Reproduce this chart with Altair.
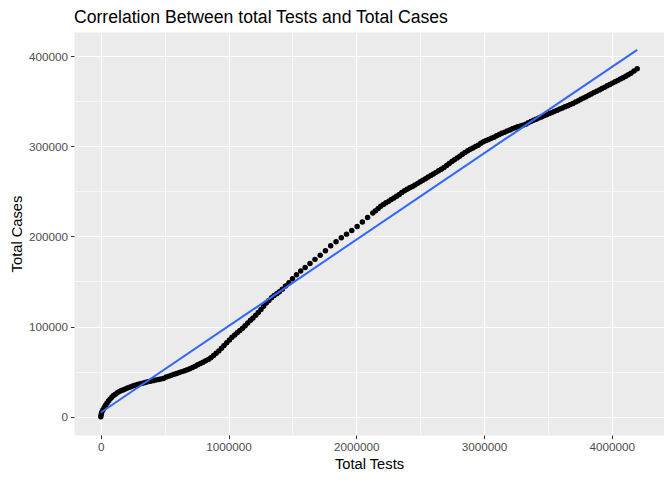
import altair as alt
import pandas as pd

# Values (thousands)
total_tests_k = [0, 3, 7, 16, 26, 36, 48, 60, 72, 86, 99, 114, 129, 145, 161, 178, 195, 213, 231, 250,
                 268, 288, 308, 327, 347, 367, 388, 409, 429, 450, 470, 491, 512, 532, 553, 574, 594, 615, 635, 656,
                 677, 697, 718, 739, 759, 780, 800, 821, 842, 862, 883, 903, 924, 945, 965, 986, 1007, 1027, 1048, 1068,
                 1089, 1110, 1130, 1151, 1172, 1192, 1213, 1233, 1254, 1275, 1295, 1316, 1337, 1357, 1378, 1398, 1421, 1446, 1473, 1501,
                 1532, 1565, 1600, 1638, 1677, 1718, 1759, 1800, 1842, 1883, 1924, 1965, 2007, 2048, 2089,
                 2130, 2151, 2172, 2192, 2213, 2233, 2254, 2274, 2295, 2316, 2337, 2357, 2378, 2398, 2419, 2440, 2460, 2481, 2502, 2522,
                 2543, 2563, 2584, 2604, 2625, 2645, 2666, 2687, 2708, 2728, 2749, 2769, 2790, 2810, 2831, 2852, 2873, 2893, 2914, 2934,
                 2955, 2975, 2996, 3017, 3038, 3058, 3079, 3099, 3120, 3140, 3161, 3182, 3203, 3223, 3244, 3264, 3285, 3305, 3326, 3347,
                 3368, 3388, 3409, 3429, 3450, 3470, 3491, 3512, 3533, 3553, 3574, 3594, 3615, 3635, 3656, 3676, 3697, 3718, 3739, 3759,
                 3780, 3800, 3821, 3841, 3862, 3883, 3904, 3924, 3945, 3965, 3986, 4006, 4027, 4048, 4069, 4089, 4110, 4130, 4151, 4175,
                 4200]
total_cases_k = [0, 2.5, 5, 7.5, 10, 12.5, 15, 17.5, 19.5, 21.5, 23.5, 25, 26.5, 28, 29, 30, 31, 32, 33, 34,
                 35, 35.8, 36.5, 37.2, 38, 38.7, 39.4, 40, 40.6, 41.2, 41.8, 42.4, 44, 45, 46, 47, 48, 49, 50, 51,
                 52, 53.2, 54.5, 56, 57.5, 59, 60.5, 62, 63.5, 65.5, 68, 70.5, 73, 76, 79, 82, 85, 88, 90.5, 93,
                 95.5, 98, 101, 104, 107, 109.5, 112.5, 115.5, 119, 122.5, 126, 129, 132, 134.5, 136.5, 138.5, 141.5, 145, 148.5, 153,
                 157.5, 161.5, 165.5, 170, 174.5, 179, 184, 189.5, 194, 198.5, 202.5, 206.5, 211, 216, 221,
                 226, 228.5, 231, 233.3, 235.5, 237.2, 239, 240.8, 242.5, 244.5, 246.5, 248.6, 250.5, 252.3, 254, 255.4, 257, 258.8, 260.5, 262.3,
                 264, 265.8, 267.5, 269.3, 271, 272.7, 274.5, 276.4, 278.5, 280.8, 283, 285, 287, 289, 291, 293, 295, 296.6, 298, 299.6,
                 301, 303.2, 305, 306.3, 307.5, 308.8, 310, 311.6, 313, 314.3, 315.5, 316.8, 318, 319.3, 320.5, 321.6, 322.5, 323.4, 324.5, 326,
                 327.5, 328.8, 330, 331.3, 332.5, 333.7, 335, 336.3, 337.5, 338.7, 340, 341.3, 342.5, 343.7, 345, 346.3, 347.5, 349, 350.5, 352,
                 353.5, 355, 356.5, 358, 359.5, 361, 362.5, 364, 365.5, 367, 368.5, 370, 371.5, 373, 374.5, 376, 377.5, 379.3, 381, 383.5,
                 386]

x_breaks = [0, 500000, 1000000, 1500000, 2000000, 2500000, 3000000, 3500000, 4000000]
y_breaks = [0, 50000, 100000, 150000, 200000, 250000, 300000, 350000, 400000]

df = pd.DataFrame({
    "tests": [v * 1000 for v in total_tests_k],
    "cases": [v * 1000 for v in total_cases_k],
})

FONT = "Liberation Sans"


def make_axis(values, major_step, title, title_pad):
    minor_test = f"datum.value % {major_step} !== 0"
    return alt.Axis(
        values=values,
        format="d",
        labelExpr=f"datum.value % {major_step} === 0 ? datum.label : ''",
        labelOverlap=False,
        labelFont=FONT,
        labelFontSize=11.7,
        labelColor="#4D4D4D",
        labelPadding=3,
        tickColor="#333333",
        tickSize=3.6,
        tickWidth=1,
        tickOpacity={"condition": {"test": minor_test, "value": 0}, "value": 1},
        domain=False,
        grid=True,
        gridColor="white",
        gridWidth={"condition": {"test": minor_test, "value": 0.6}, "value": 1.2},
        title=title,
        titleFont=FONT,
        titleFontSize=14.7,
        titleFontWeight="normal",
        titleColor="black",
        titlePadding=title_pad,
    )


xenc = alt.X("tests:Q",
             scale=alt.Scale(domain=[-210000, 4410000], nice=False, zero=False),
             axis=make_axis(x_breaks, 1000000, "Total Tests", 3))
yenc = alt.Y("cases:Q",
             scale=alt.Scale(domain=[-20300, 426700], nice=False, zero=False),
             axis=make_axis(y_breaks, 100000, "Total Cases", 4))

points = alt.Chart(df).mark_circle(size=30, color="black", opacity=1).encode(x=xenc, y=yenc)

line = alt.Chart(df).transform_regression("tests", "cases", method="linear").mark_line(
    color="#3366FF", strokeWidth=2
).encode(x=xenc, y=yenc)

chart = alt.layer(points, line).properties(
    width=590,
    height=403,
    autosize=alt.AutoSizeParams(type="none"),
    padding={"left": 66, "top": 24, "right": 0, "bottom": 37},
    title=alt.TitleParams(
        "Correlation Between total Tests and Total Cases",
        anchor="start",
        frame="group",
        font=FONT,
        fontSize=17.6,
        fontWeight="normal",
        color="black",
        offset=5,
    ),
).configure_view(fill="#EBEBEB", stroke="transparent")

chart.save("out.html", embed_options={"renderer": "svg", "actions": False})
